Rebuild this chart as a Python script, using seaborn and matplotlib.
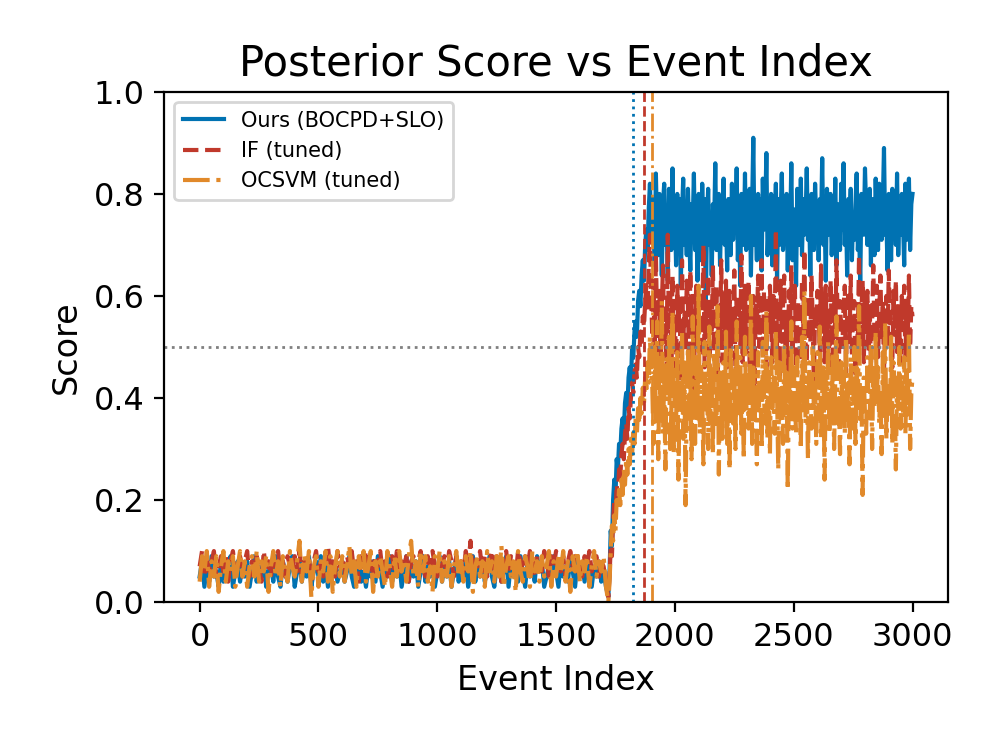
import numpy as np
import pandas as pd
import matplotlib
matplotlib.use("Agg")
import matplotlib.pyplot as plt
import seaborn as sns

# event index: every 10 events up to 1720, then every 5 events to 3000
event_base = np.arange(0, 1721, 10)
event_late = np.arange(1725, 3001, 5)

# scores in hundredths
# Ours (BOCPD+SLO)
ours_base = [
    5, 8, 3, 7, 4, 9, 5, 6, 3, 8,
    4, 7, 5, 9, 3, 6, 8, 4, 7, 5,
    8, 3, 6, 9, 4, 7, 5, 8, 3, 6,
    7, 4, 9, 5, 3, 8, 6, 4, 7, 9,
    3, 6, 8, 4, 7, 5, 9, 3, 6, 8,
    5, 9, 4, 7, 3, 8, 5, 7, 4, 6,
    8, 4, 6, 9, 5, 3, 7, 8, 4, 6,
    3, 7, 5, 8, 4, 9, 6, 3, 7, 5,
    9, 4, 7, 5, 8, 3, 6, 9, 4, 7,
    5, 8, 3, 6, 9, 4, 7, 5, 8, 3,
    6, 9, 4, 7, 5, 8, 3, 6, 9, 4,
    7, 5, 8, 3, 6, 9, 4, 7, 5, 8,
    4, 6, 9, 5, 3, 7, 8, 4, 6, 9,
    3, 8, 5, 7, 4, 9, 6, 3, 8, 5,
    7, 4, 9, 6, 8, 3, 5, 7, 4, 9,
    6, 3, 8, 5, 7, 4, 9, 6, 3, 8,
    5, 7, 4, 8, 6, 3, 7, 5, 8, 4,
    6, 3, 1,
]
ours_ramp = [
    6, 14, 11, 20, 24, 21, 28, 26, 31, 29, 34, 36, 33, 39, 41, 38, 44, 46,
    43, 50, 48, 53, 55, 52, 59, 61, 58, 64, 67, 63, 70, 73, 69, 77, 82, 74,
]
ours_plateau = [
    71, 79, 66, 84, 73, 68, 80, 75, 64, 78,
    82, 70, 76, 63, 81, 74, 69, 85, 72, 77,
    66, 80, 73, 79, 62, 76, 83, 70, 75, 68,
    81, 72, 65, 78, 74, 84, 69, 77, 63, 80,
    75, 67, 82, 71, 79, 58, 74, 81, 70, 76,
    64, 78, 73, 86, 69, 75, 80, 66, 77, 72,
    83, 70, 76, 65, 79, 74, 68, 82, 71, 78,
    73, 85, 67, 77, 62, 80, 75, 70, 84, 69,
    76, 72, 81, 64, 78, 91, 70, 74, 67, 80,
    72, 79, 65, 83, 73, 76, 88, 68, 75, 71,
    80, 66, 77, 74, 82, 63, 79, 70, 76, 84,
    69, 75, 72, 80, 65, 78, 73, 86, 67, 77,
    74, 62, 81, 76, 70, 83, 68, 79, 72, 75,
    85, 71, 77, 64, 80, 73, 69, 82, 75, 78,
    67, 79, 74, 87, 70, 76, 63, 81, 72, 77,
    80, 68, 75, 71, 83, 66, 78, 74, 69, 82,
    73, 86, 70, 77, 64, 79, 75, 81, 67, 76,
    71, 78, 84, 69, 74, 62, 80, 76, 72, 85,
    77, 70, 75, 81, 66, 79, 73, 68, 83, 74,
    69, 82, 76, 71, 78, 89, 72, 75, 65, 80,
    74, 67, 81, 73, 79, 70, 84, 68, 77, 72,
    80, 75, 66, 82, 71, 77, 83, 69, 78, 80,
]

# IF (tuned)
if_base = [
    7, 10, 5, 9, 6, 8, 10, 5, 7, 9,
    6, 9, 4, 8, 10, 6, 7, 9, 5, 8,
    10, 5, 8, 6, 9, 7, 4, 10, 6, 8,
    5, 9, 7, 10, 6, 8, 5, 9, 7, 6,
    9, 6, 10, 5, 8, 7, 9, 4, 8, 10,
    6, 8, 5, 9, 11, 6, 8, 5, 10, 7,
    8, 5, 9, 7, 10, 6, 8, 4, 9, 7,
    10, 6, 8, 5, 9, 7, 10, 6, 8, 5,
    7, 9, 6, 10, 5, 8, 7, 9, 4, 8,
    9, 6, 8, 10, 7, 5, 9, 6, 10, 7,
    5, 8, 7, 9, 6, 10, 8, 5, 9, 7,
    8, 6, 10, 7, 12, 5, 9, 7, 10, 6,
    9, 5, 8, 10, 6, 9, 7, 4, 8, 10,
    6, 9, 7, 5, 10, 8, 6, 9, 7, 10,
    8, 5, 9, 7, 6, 10, 8, 5, 9, 7,
    10, 7, 6, 9, 5, 8, 10, 7, 9, 6,
    8, 5, 9, 7, 10, 6, 8, 9, 5, 8,
    7, 4, 1,
]
if_ramp = [
    5, 11, 9, 16, 20, 17, 23, 21, 26, 24, 29, 31, 28, 33, 35, 32, 38, 36,
    40, 43, 41, 45, 47, 44, 50, 48, 53, 51, 56, 54, 59, 62, 57, 66, 72, 60,
]
if_plateau = [
    52, 63, 47, 68, 55, 49, 61, 44, 58, 66,
    50, 57, 45, 72, 53, 60, 48, 64, 51, 56,
    46, 62, 54, 59, 43, 67, 52, 57, 49, 63,
    58, 47, 65, 53, 60, 41, 56, 62, 50, 55,
    61, 48, 54, 70, 46, 59, 52, 64, 45, 57,
    53, 66, 49, 56, 62, 44, 58, 51, 67, 47,
    59, 52, 63, 46, 55, 61, 48, 57, 53, 65,
    44, 60, 54, 58, 50, 68, 47, 56, 62, 49,
    57, 63, 45, 55, 51, 60, 39, 58, 53, 64,
    50, 56, 67, 48, 61, 54, 46, 59, 52, 62,
    55, 47, 60, 53, 73, 49, 57, 44, 63, 51,
    58, 64, 50, 56, 45, 61, 54, 66, 48, 57,
    62, 46, 55, 59, 52, 48, 63, 53, 69, 50,
    47, 60, 57, 51, 64, 55, 42, 58, 54, 61,
    56, 49, 66, 53, 59, 47, 62, 50, 57, 45,
    63, 54, 48, 60, 52, 67, 55, 46, 59, 53,
    50, 58, 62, 45, 56, 61, 51, 64, 48, 57,
    59, 44, 55, 52, 68, 50, 57, 63, 47, 60,
    53, 61, 49, 58, 46, 54, 66, 51, 56, 62,
    48, 57, 64, 52, 59, 45, 55, 60, 50, 65,
    56, 51, 46, 61, 54, 63, 49, 58, 53, 47,
    60, 55, 62, 48, 57, 52, 64, 50, 58, 56,
]

# OCSVM (tuned)
ocsvm_base = [
    4, 9, 6, 10, 3, 8, 5, 9, 2, 7,
    10, 4, 8, 6, 9, 3, 7, 10, 5, 8,
    3, 7, 9, 5, 10, 4, 8, 6, 9, 2,
    7, 10, 5, 8, 3, 9, 6, 4, 10, 7,
    5, 8, 12, 4, 9, 6, 10, 1, 7, 9,
    3, 8, 6, 10, 4, 9, 2, 7, 10, 5,
    9, 4, 7, 11, 5, 8, 3, 9, 6, 10,
    4, 7, 10, 2, 8, 5, 9, 6, 3, 10,
    7, 3, 9, 5, 10, 6, 8, 4, 9, 12,
    5, 8, 3, 10, 6, 9, 4, 7, 2, 9,
    6, 10, 4, 8, 5, 9, 3, 7, 10, 5,
    8, 4, 9, 6, 10, 2, 7, 9, 5, 8,
    3, 10, 6, 8, 4, 9, 5, 11, 3, 7,
    9, 5, 8, 2, 10, 6, 4, 9, 7, 3,
    10, 6, 8, 4, 9, 5, 7, 10, 3, 8,
    5, 9, 6, 10, 4, 8, 2, 9, 6, 10,
    4, 8, 6, 9, 3, 7, 10, 5, 8, 6,
    9, 3, 0,
]
ocsvm_ramp = [
    4, 10, 15, 12, 17, 14, 20, 18, 22, 19, 24, 21, 26, 23, 28, 25, 30, 27,
    32, 29, 34, 31, 36, 33, 38, 35, 40, 37, 42, 39, 44, 41, 47, 43, 52, 45,
]
ocsvm_plateau = [
    42, 31, 50, 36, 55, 28, 46, 38, 59, 33,
    44, 26, 48, 40, 52, 30, 37, 57, 29, 45,
    35, 49, 24, 43, 38, 53, 32, 47, 19, 41,
    50, 34, 45, 28, 56, 39, 31, 48, 36, 62,
    33, 46, 40, 27, 51, 37, 44, 30, 54, 35,
    42, 29, 49, 38, 34, 58, 25, 45, 40, 32,
    47, 36, 53, 31, 43, 26, 50, 39, 35, 46,
    30, 55, 41, 37, 48, 33, 44, 28, 52, 38,
    45, 34, 39, 60, 31, 46, 36, 42, 27, 49,
    37, 43, 30, 51, 40, 35, 57, 32, 45, 29,
    48, 38, 44, 33, 53, 41, 26, 47, 36, 42,
    31, 50, 37, 45, 22, 43, 39, 55, 34, 46,
    40, 33, 48, 36, 42, 30, 52, 38, 61, 35,
    44, 28, 47, 39, 34, 50, 37, 43, 31, 49,
    36, 54, 32, 41, 46, 24, 45, 38, 51, 33,
    42, 37, 49, 30, 44, 56, 35, 40, 29, 47,
    38, 45, 33, 52, 36, 43, 27, 48, 41, 34,
    50, 31, 46, 39, 58, 35, 42, 21, 44, 37,
    33, 48, 40, 36, 51, 30, 45, 38, 53, 41,
    46, 35, 42, 29, 49, 37, 55, 32, 43, 39,
    36, 52, 31, 47, 40, 26, 44, 38, 50, 34,
    43, 37, 48, 33, 45, 39, 53, 30, 41, 44,
]

# detected change points and decision threshold
cp_ours = 1825
cp_if = 1868
cp_ocsvm = 1902
threshold = 0.5

C_OURS = "#0072B2"
C_IF = "#C0392B"
C_OCSVM = "#E1892A"

df = pd.DataFrame({
    "event": np.concatenate([event_base, event_late]),
    "ours": np.array(ours_base + ours_ramp + ours_plateau) / 100,
    "if": np.array(if_base + if_ramp + if_plateau) / 100,
    "ocsvm": np.array(ocsvm_base + ocsvm_ramp + ocsvm_plateau) / 100,
})

fig = plt.figure(figsize=(4.985, 3.735), dpi=200)
ax = fig.add_axes([0.1645, 0.194, 0.7865, 0.683])

sns.lineplot(data=df, x="event", y="ours", color=C_OURS, lw=1.5,
             label="Ours (BOCPD+SLO)", ax=ax)
sns.lineplot(data=df, x="event", y="if", color=C_IF, lw=1.5, linestyle="--",
             label="IF (tuned)", ax=ax)
sns.lineplot(data=df, x="event", y="ocsvm", color=C_OCSVM, lw=1.5, linestyle="-.",
             label="OCSVM (tuned)", ax=ax)

ax.axhline(threshold, color="gray", linestyle=":", lw=1)
ax.axvline(cp_ours, color=C_OURS, linestyle=":", lw=1)
ax.axvline(cp_if, color=C_IF, linestyle="--", lw=1)
ax.axvline(cp_ocsvm, color=C_OCSVM, linestyle="-.", lw=1)

ax.set_ylim(0, 1)
ax.set_title("Posterior Score vs Event Index", fontsize=15)
ax.set_xlabel("Event Index", fontsize=12)
ax.set_ylabel("Score", fontsize=12)
ax.tick_params(labelsize=11.5)
ax.legend(loc="upper left", fontsize=7.5)

fig.savefig("out.png", dpi=200)
